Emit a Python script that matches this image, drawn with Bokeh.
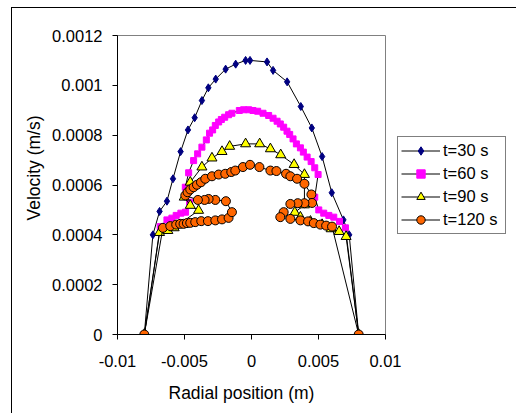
from bokeh.plotting import figure
from bokeh.models import FixedTicker, Legend, LegendItem, Title, Range1d
from bokeh.embed import file_html
from bokeh.resources import INLINE

# ---------------- data ----------------
x_ticks = [-0.01, -0.005, 0, 0.005, 0.01]
x_tick_labels = ["-0.01", "-0.005", "0", "0.005", "0.01"]
y_ticks = [0, 0.0002, 0.0004, 0.0006, 0.0008, 0.001, 0.0012]
y_tick_labels = ["0", "0.0002", "0.0004", "0.0006", "0.0008", "0.001", "0.0012"]

x_title = "Radial position (m)"
y_title = "Velocity (m/s)"
series_names = ["t=30 s", "t=60 s", "t=90 s", "t=120 s"]

t30_x = [-0.0080, -0.00736, -0.00686, -0.00631, -0.00586, -0.00529, -0.00474, -0.00424,
         -0.00370, -0.00322, -0.00267, -0.00193, -0.00118, -0.00044, -0.00011, 0.00116,
         0.00161, 0.00266, 0.00368, 0.00450, 0.00527, 0.00599, 0.00686, 0.00729, 0.0080]
t30_y = [0.0, 0.000400, 0.000494, 0.000535, 0.000625, 0.000734, 0.000821, 0.000870,
         0.000939, 0.000990, 0.001025, 0.001065, 0.001085, 0.001100, 0.001100, 0.001094,
         0.001060, 0.001014, 0.000915, 0.000829, 0.000714, 0.000569, 0.000460, 0.000400, 0.0]

t60_x = [-0.0080, -0.00681, -0.00631, -0.00594, -0.00562, -0.00527, -0.00492, -0.00462,
         -0.00494, -0.00469, -0.00432, -0.00402, -0.00370, -0.00337, -0.00313, -0.00290,
         -0.00270, -0.00245, -0.00225, -0.00200, -0.00171, -0.00146, -0.00091, -0.00059,
         -0.00021, 0.00011, 0.00046, 0.00086, 0.00128, 0.00161, 0.00191, 0.00215,
         0.00240, 0.00265, 0.00285, 0.00310, 0.00335, 0.00365, 0.00387, 0.00415,
         0.00445, 0.00472, 0.00497, 0.00472, 0.00502, 0.00539, 0.00577, 0.00614,
         0.00657, 0.00701, 0.0080]
t60_y = [0.0, 0.000433, 0.000460, 0.000467, 0.000478, 0.000487, 0.000491, 0.000531,
         0.000591, 0.000649, 0.000698, 0.000725, 0.000752, 0.000781, 0.000808, 0.000821,
         0.000839, 0.000853, 0.000863, 0.000872, 0.000882, 0.000888, 0.000899, 0.000902,
         0.000902, 0.000899, 0.000896, 0.000888, 0.000879, 0.000868, 0.000856, 0.000845,
         0.000832, 0.000816, 0.000803, 0.000785, 0.000765, 0.000749, 0.000732, 0.000712,
         0.000694, 0.000669, 0.000642, 0.000551, 0.000500, 0.000487, 0.000478, 0.000471,
         0.000454, 0.000428, 0.0]

t90_x = [-0.0080, -0.00686, -0.00624, -0.00577, -0.00395, -0.00457, -0.00502, -0.00457,
         -0.00370, -0.00295, -0.00220, -0.00163, -0.00044, 0.00061, 0.00141, 0.00218,
         0.00318, 0.00395, 0.00395, 0.00323, 0.00365, 0.00440, 0.00527, 0.00594,
         0.00654, 0.00706, 0.0080]
t90_y = [0.0, 0.000409, 0.000417, 0.000428, 0.000498, 0.000518, 0.000551, 0.000611,
         0.000672, 0.000708, 0.000734, 0.000755, 0.000765, 0.000765, 0.000745, 0.000721,
         0.000682, 0.000642, 0.000520, 0.000490, 0.000471, 0.000454, 0.000441, 0.000424,
         0.000413, 0.000393, 0.0]

t120_x = [-0.0080, -0.00661, -0.00606, -0.00562, -0.00532, -0.00507, -0.00482, -0.00457,
          -0.00420, -0.00375, -0.00325, -0.00270, -0.00220, -0.00171, -0.00146, -0.00191,
          -0.00270, -0.00320, -0.00350, -0.00400, -0.00494, -0.00477, -0.00457, -0.00432,
          -0.00407, -0.00377, -0.00345, -0.00295, -0.00245, -0.00196, -0.00151, -0.00121,
          -0.00064, -0.00011, 0.00059, 0.00141, 0.00186, 0.00258, 0.00290, 0.00340,
          0.00395, 0.00447, 0.00452, 0.00395, 0.00345, 0.00290, 0.00240, 0.00215,
          0.00290, 0.00365, 0.00422, 0.00465, 0.00514, 0.00557, 0.00601, 0.0080]
t120_y = [0.0, 0.000428, 0.000435, 0.000441, 0.000444, 0.000444, 0.000447, 0.000448,
          0.000451, 0.000455, 0.000455, 0.000458, 0.000462, 0.000468, 0.000491, 0.000535,
          0.000540, 0.000544, 0.000540, 0.000540, 0.000558, 0.000571, 0.000582, 0.000591,
          0.000601, 0.000611, 0.000625, 0.000635, 0.000642, 0.000645, 0.000652, 0.000658,
          0.000672, 0.000681, 0.000672, 0.000658, 0.000656, 0.000645, 0.000635, 0.000625,
          0.000605, 0.000562, 0.000528, 0.000527, 0.000527, 0.000524, 0.000491, 0.000471,
          0.000464, 0.000458, 0.000454, 0.000447, 0.000441, 0.000437, 0.000433, 0.0]

# ---------------- figure ----------------
FONT = "Liberation Sans"

p = figure(frame_width=268, frame_height=299, output_backend="svg", toolbar_location=None,
           x_range=Range1d(-0.01, 0.01), y_range=Range1d(0, 0.0012),
           min_border_left=105, min_border_right=0, min_border_top=27, min_border_bottom=79)
p.styles = {"margin-left": "11px", "margin-top": "7px",
            "border-left": "1px solid black", "border-top": "1px solid black"}
p.grid.visible = False
p.outline_line_color = "#808080"
p.outline_line_width = 1
p.background_fill_color = "white"
p.border_fill_color = "white"

for ax in (p.xaxis[0], p.yaxis[0]):
    ax.axis_line_color = "black"
    ax.major_tick_line_color = "black"
    ax.major_tick_out = 5
    ax.major_tick_in = 0
    ax.minor_tick_line_color = None
    ax.major_label_text_font = FONT
    ax.major_label_text_font_size = "16.5px"
    ax.major_label_text_color = "black"

p.xaxis[0].ticker = FixedTicker(ticks=x_ticks)
p.yaxis[0].ticker = FixedTicker(ticks=y_ticks)
p.xaxis[0].major_label_overrides = dict(zip(x_ticks, x_tick_labels))
p.yaxis[0].major_label_overrides = dict(zip(y_ticks, y_tick_labels))
p.xaxis[0].major_label_standoff = 15
p.yaxis[0].major_label_standoff = 10

xs = [t30_x, t60_x, t90_x, t120_x]
ys = [t30_y, t60_y, t90_y, t120_y]
markers = ["diamond", "square", "triangle", "circle"]
fills = ["#000080", "#FF00FF", "#FFFF00", "#FF6600"]
outlines = ["#000080", "#FF00FF", "black", "black"]
sizes = [8, 6, 10, 9]

items = []
for name, x, y, m, fc, lc, s in zip(series_names, xs, ys, markers, fills, outlines, sizes):
    lr = p.line(x, y, line_color="black", line_width=1)
    sr = p.scatter(x, y, marker=m, size=s, fill_color=fc, line_color=lc, line_width=1)
    items.append(LegendItem(label=name, renderers=[lr, sr]))

legend = Legend(items=items, location="center_left", orientation="vertical",
                border_line_color="black", border_line_width=1,
                background_fill_color="white", background_fill_alpha=1,
                padding=3, spacing=2, margin=12,
                glyph_width=39, glyph_height=21, label_height=21, label_width=59,
                label_standoff=3,
                label_text_font=FONT, label_text_font_size="16.5px",
                label_text_color="black")
p.add_layout(legend, "right")

p.add_layout(Title(text=y_title, align="left", offset=114, standoff=12,
                   text_font=FONT, text_font_size="17.5px", text_font_style="normal",
                   text_color="black"), "left")
p.add_layout(Title(text=x_title, align="left", offset=51, standoff=26,
                   vertical_align="top",
                   text_font=FONT, text_font_size="17.5px", text_font_style="normal",
                   text_color="black"), "below")

open("out.html", "w").write(file_html(p, INLINE))
